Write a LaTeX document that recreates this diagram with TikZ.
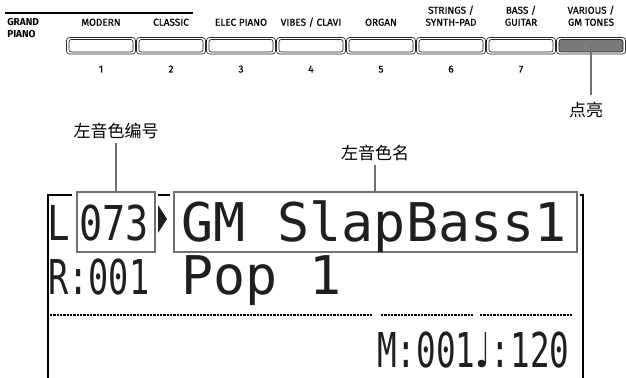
\documentclass[tikz,border=0pt]{standalone}
\usepackage{fontspec}
\usepackage{graphicx}
\usetikzlibrary{fit}
\newfontfamily\lblfont{Fira Sans}[FakeBold=0.5]
\newfontfamily\lblbold{Fira Sans Bold}
\newfontfamily\cjkfont{Noto Sans CJK SC}
\newfontfamily\lcdfont{DejaVu Sans Mono}
\newfontfamily\symfont{DejaVu Sans}
\definecolor{leadgray}{HTML}{707070}
\definecolor{litgray}{HTML}{7A7A7A}
\begin{document}
\begin{tikzpicture}[x=0.75pt,y=-0.75pt,
  lbl/.style={font=\lblfont\fontsize{7.5}{9}\selectfont, inner sep=0pt, align=center, text depth=0pt, anchor=south},
  num/.style={font=\lblfont\fontsize{7.5}{9}\selectfont, inner sep=0pt, anchor=base},
  cjk/.style={font=\cjkfont\fontsize{12.75}{14}\selectfont, inner sep=0pt},
  leader/.style={draw=leadgray, line width=1.9pt},
  btnout/.style={draw=black!85, line width=0.5pt, rounded corners=2.2pt, inner sep=0pt},
  btnin/.style={draw=black!85, line width=0.5pt, rounded corners=1.6pt, inner sep=0pt},
  hibox/.style={draw=leadgray, line width=1.9pt, fill=white, inner sep=0pt},
  lcdbig/.style={font=\lcdfont\fontsize{40}{40}\selectfont, inner sep=0pt, anchor=base west, text=black!88},
  lcdnar/.style={font=\lcdfont\fontsize{36}{36}\selectfont, inner sep=0pt, anchor=base west, text=black!88},
  lcdframe/.style={draw=black, line width=1.6pt},
  dots/.style={draw=black, line width=2pt, dash pattern=on 1.7pt off 0.8pt},
  ]
\useasboundingbox (0,0) rectangle (626,378);

% group line above grand piano labels
\draw[line width=1.5pt] (5,13) -- (193,13);

% labels
\node[lbl, anchor=south west, align=left, font=\lblbold\fontsize{7.5}{9}\selectfont] (lg) at (7,38) {GRAND\\PIANO};
\node[lbl] (l1) at (101,26) {MODERN};
\node[lbl] (l2) at (171,26) {CLASSIC};
\node[lbl] (l3) at (241,26) {ELEC PIANO};
\node[lbl] (l4) at (311,26) {VIBES / CLAVI};
\node[lbl] (l5) at (381,26) {ORGAN};
\node[lbl] (l6) at (451,26) {STRINGS /\\SYNTH-PAD};
\node[lbl] (l7) at (521,26) {BASS /\\GUITAR};
\node[lbl] (l8) at (591,26) {VARIOUS /\\GM TONES};

% buttons
\foreach \i in {1,...,8}{
  \pgfmathsetmacro{\cx}{101+70*(\i-1)}
  \node[btnout, fit={(\cx-34.5,37.5)(\cx+34.5,54)}] (o\i) {};
}
\foreach \i in {1,...,7}{
  \pgfmathsetmacro{\cx}{101+70*(\i-1)}
  \node[btnin, fit={(\cx-32,39.5)(\cx+32,52)}] (b\i) {};
  \node[num] (n\i) at (\cx,72.5) {\i};
}
\node[btnin, fill=litgray, fit={(559,39.5)(623,52)}] (b8) {};

% lit label
\node[cjk] (lit) at (586,110) {点亮};
\draw[leader] (b8.center) -- (b8.center |- 0,95);

% LCD frame
\draw[lcdframe] (48,380) -- (48,195) -- (583,195) -- (583,380);

% highlighted boxes
\fill[white] (72,188) rectangle (158,256);
\fill[white] (170,188) rectangle (580,256);
\node[hibox, fit={(77,192)(155,252)}] (box1) {};
\node[hibox, fit={(174,192)(577,252)}] (box2) {};

% callout labels
\node[cjk] (nr) at (116,131) {左音色编号};
\node[cjk] (nm) at (375,153) {左音色名};
\draw[leader] ([yshift=-3pt]nr.south) -- (nr.south |- box1.north);
\draw[leader] ([yshift=-3pt]nm.south) -- (nm.south |- box2.north);

% LCD row 1
\node[lcdnar] (r1a) at (47,241) {\scalebox{0.78}[1]{L}};
\node[lcdnar] (r1b) at (79,241) {\scalebox{0.8}[1]{073}};
\fill[black!88] (158,205) -- (167,219) -- (158,233) -- cycle;
\node[lcdbig] (r1c) at (181,242) {GM SlapBass1};

% LCD row 2
\node[lcdnar] (r2a) at (48,295) {\scalebox{0.7}[1]{R:001}};
\node[lcdbig] (r2b) at (181,295) {Pop 1};

% dotted separator
\draw[dots] (50,315) -- (372,315);
\draw[dots] (381,315) -- (474,315);
\draw[dots] (480,315) -- (573,315);

% LCD row 3
\node[lcdnar] (r3) at (377,368) {\scalebox{0.68}[1]{M:001{\symfont ♩}:120}};

\end{tikzpicture}
\end{document}
